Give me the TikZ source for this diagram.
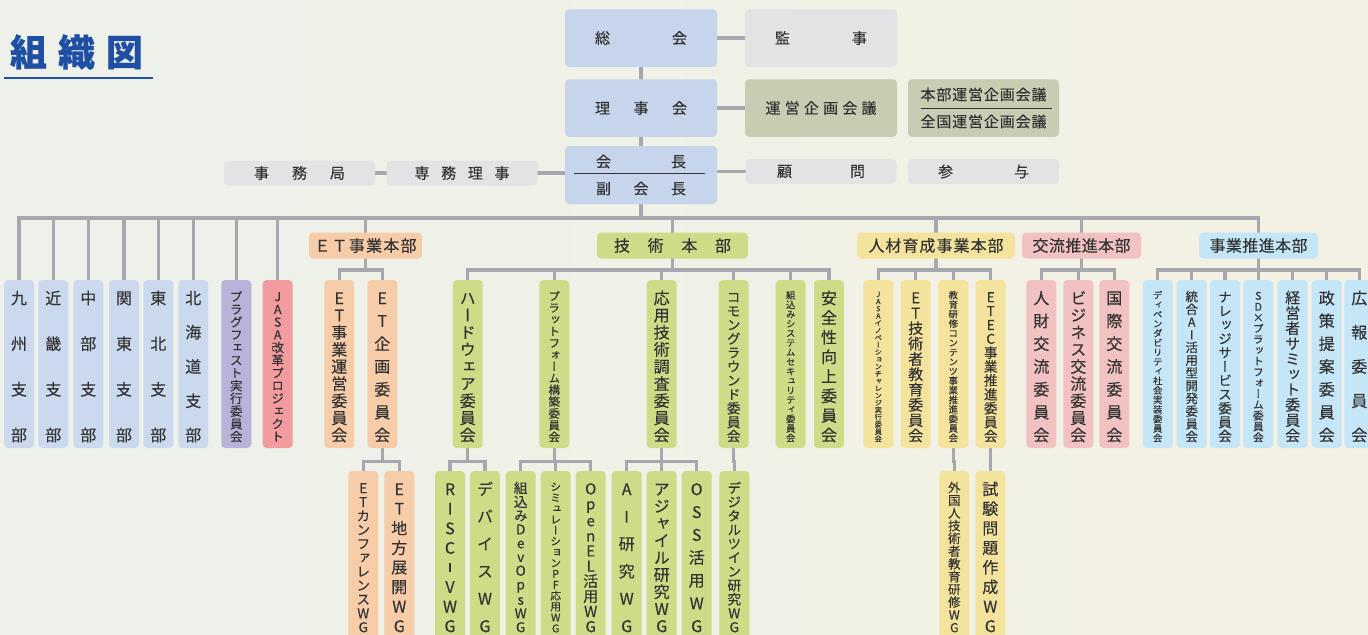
\documentclass[tikz,border=0pt]{standalone}
\usepackage{fontspec}
\setmainfont{Noto Sans CJK JP}[FakeBold=0.25]
\newfontfamily\tatefont{Noto Sans CJK JP}[RawFeature=+vert, FakeBold=0.25]

\definecolor{txt}{HTML}{333333}
\definecolor{linegray}{HTML}{A7A8AF}
\definecolor{titleblue}{HTML}{1E4FA3}
\definecolor{bgleft}{HTML}{EDF1EA}
\definecolor{bgright}{HTML}{F3F1E3}
\definecolor{kaiblue}{HTML}{C6D5EC}
\definecolor{shibu}{HTML}{CBD9EF}
\definecolor{kgray}{HTML}{E2E3E5}
\definecolor{olive}{HTML}{C9CBB3}
\definecolor{plugcol}{HTML}{B8B4D9}
\definecolor{kaikakucol}{HTML}{F39CA0}
\definecolor{etcol}{HTML}{F7CDA9}
\definecolor{gicol}{HTML}{CEDB87}
\definecolor{jicol}{HTML}{F4E39D}
\definecolor{kocol}{HTML}{F2C1C1}
\definecolor{jgcol}{HTML}{C5E6F6}

\newcommand\tst{\vrule height .88em depth .12em width 0pt\relax}
\newcommand\tbar{\rule[.1em]{.12em}{.55em}}

% vertical text: one character per row, spread over the box
\ExplSyntaxOn
\NewDocumentCommand \tate { m }
  {
    \int_set:Nn \l_tmpa_int { \tl_count:n {#1} }
    \tl_set:Nx \l_tmpa_tl { \fp_eval:n { min ( 8 , 75 / \l_tmpa_int ) } }
    \vbox to 78pt
      {
        \offinterlineskip
        \kern 2.5pt
        \tatefont \fontsize { \l_tmpa_tl } { 10 } \selectfont
        \bool_set_false:N \l_tmpa_bool
        \tl_map_inline:nn {#1}
          {
            \bool_if:NT \l_tmpa_bool { \vfill }
            \bool_set_true:N \l_tmpa_bool
            \hbox_to_wd:nn { 14pt } { \hss \tst ##1 \hss }
          }
      }
  }
% spaced-out horizontal text
\NewDocumentCommand \yoko { m m }
  {
    \hbox_to_wd:nn {#1}
      {
        \bool_set_false:N \l_tmpa_bool
        \tl_map_inline:nn {#2}
          {
            \bool_if:NT \l_tmpa_bool { \hfil }
            \bool_set_true:N \l_tmpa_bool
            ##1
          }
      }
  }
\ExplSyntaxOff

\pgfdeclarelayer{back}
\pgfdeclarelayer{wires}
\pgfsetlayers{back,wires,main}

\tikzset{
  box/.style={rounded corners=2pt, inner sep=0pt, text=txt},
  topbox/.style={box, minimum width=76pt, minimum height=28.75pt,
    align=center, font=\fontsize{7.5}{13.5}\selectfont},
  smallbox/.style={box, minimum width=75.5pt, minimum height=12.5pt,
    font=\fontsize{7.5}{9}\selectfont},
  headbox/.style={box, minimum height=13pt, font=\fontsize{8}{9}\selectfont},
  tatebox/.style={box, minimum width=15pt, minimum height=84pt},
  conn/.style={draw=linegray, line width=1.6pt, line cap=rect},
}

\begin{document}
\begin{tikzpicture}[x=0.5pt, y=-0.5pt]
  \useasboundingbox (0,0) rectangle (1368,634);
  \begin{pgfonlayer}{back}
    \shade[left color=bgleft, right color=bgright] (0,0) rectangle (1368,634);
  \end{pgfonlayer}

  % title
  \node[text=titleblue, font=\fontsize{18.5}{20}\selectfont\bfseries] (title) at (76.5,52) {\yoko{66.5pt}{組織図}};
  \draw[titleblue, line width=0.6pt] (4,78) -- (153,78);

  % top
  \node[topbox, fill=kaiblue] (sokai) at (641,38) {\yoko{46pt}{総会}};
  \node[topbox, fill=kgray] (kanji) at (821,38) {\yoko{46pt}{監事}};
  \node[topbox, fill=kaiblue] (rijikai) at (641,108) {\yoko{46pt}{理事会}};
  \node[topbox, fill=olive] (unei) at (821,108) {\yoko{55.5pt}{運営企画会議}};
  \node[topbox, fill=olive, minimum width=75.5pt] (honbu) at (983.5,108) {\yoko{63pt}{本部運営企画会議}\\\yoko{63pt}{全国運営企画会議}};
  \node[topbox, fill=kaiblue, minimum height=29pt] (kaicho) at (641,175) {\yoko{45pt}{会長}\\\yoko{45pt}{副会長}};
  \node[smallbox, fill=kgray] (komon) at (821,171.5) {\yoko{44pt}{顧問}};
  \node[smallbox, fill=kgray] (sanyo) at (983.5,171.5) {\yoko{45.5pt}{参与}};
  \node[smallbox, fill=kgray] (jimu) at (299.5,173) {\yoko{45.5pt}{事務局}};
  \node[smallbox, fill=kgray] (senmu) at (462,173) {\yoko{47.5pt}{専務理事}};
  \draw[txt, line width=0.5pt] ([xshift=4.5pt, yshift=1pt]kaicho.west) -- ([xshift=-6pt, yshift=1pt]kaicho.east);
  \draw[txt, line width=0.5pt] ([xshift=6.5pt]honbu.west) -- ([xshift=-3.5pt]honbu.east);

  % headquarters
  \node[headbox, fill=etcol, minimum width=56.5pt] (etbu) at (365.5,245.5) {\yoko{51pt}{ＥＴ事業本部}};
  \node[headbox, fill=gicol, minimum width=75.5pt] (gijutsu) at (672.5,245.5) {\yoko{58.5pt}{技術本部}};
  \node[headbox, fill=jicol, minimum width=79pt] (jinzai) at (936,245.5) {\yoko{67.5pt}{人材育成事業本部}};
  \node[headbox, fill=kocol, minimum width=59.5pt] (koryu) at (1081.5,245.5) {\yoko{49pt}{交流推進本部}};
  \node[headbox, fill=jgcol, minimum width=59.5pt] (jigyo) at (1258.5,245.5) {\yoko{49pt}{事業推進本部}};

  % branches and committees
  \node[tatebox, fill=shibu] (kyushu) at (19,364) {\tate{九州支部}};
  \node[tatebox, fill=shibu] (kinki) at (53.3,364) {\tate{近畿支部}};
  \node[tatebox, fill=shibu] (chubu) at (88.3,364) {\tate{中部支部}};
  \node[tatebox, fill=shibu] (kanto) at (124,364) {\tate{関東支部}};
  \node[tatebox, fill=shibu] (tohoku) at (158.3,364) {\tate{東北支部}};
  \node[tatebox, fill=shibu] (hokkaido) at (193.3,364) {\tate{北海道支部}};
  \node[tatebox, fill=plugcol] (plugfest) at (236.3,364) {\tate{プラグフェスト実行委員会}};
  \node[tatebox, fill=kaikakucol] (kaikaku) at (277.7,364) {\tate{JASA改革プロジェクト}};
  \node[tatebox, fill=etcol] (etunei) at (339.3,364) {\tate{ET事業運営委員会}};
  \node[tatebox, fill=etcol] (etkikaku) at (382.3,364) {\tate{ET企画委員会}};
  \node[tatebox, fill=gicol] (hard) at (467.7,364) {\tate{ハードウェア委員会}};
  \node[tatebox, fill=gicol] (platform) at (554.3,364) {\tate{プラットフォーム構築委員会}};
  \node[tatebox, fill=gicol] (oyo) at (661.7,364) {\tate{応用技術調査委員会}};
  \node[tatebox, fill=gicol] (common) at (733.7,364) {\tate{コモングラウンド委員会}};
  \node[tatebox, fill=gicol] (security) at (790.7,364) {\tate{組込みシステムセキュリティ委員会}};
  \node[tatebox, fill=gicol] (anzen) at (829,364) {\tate{安全性向上委員会}};
  \node[tatebox, fill=jicol] (innov) at (878.3,364) {\tate{JASAイノベーションチャレンジ実行委員会}};
  \node[tatebox, fill=jicol] (etgijutsu) at (915.7,364) {\tate{ET技術者教育委員会}};
  \node[tatebox, fill=jicol] (kyoiku) at (953.3,364) {\tate{教育研修コンテンツ事業推進委員会}};
  \node[tatebox, fill=jicol] (etec) at (990.7,364) {\tate{ETEC事業推進委員会}};
  \node[tatebox, fill=kocol] (jinzaikoryu) at (1041.3,364) {\tate{人財交流委員会}};
  \node[tatebox, fill=kocol] (business) at (1078.3,364) {\tate{ビジネス交流委員会}};
  \node[tatebox, fill=kocol] (kokusai) at (1114.3,364) {\tate{国際交流委員会}};
  \node[tatebox, fill=jgcol] (dependa) at (1157.7,364) {\tate{ディペンダビリティ社会実装委員会}};
  \node[tatebox, fill=jgcol] (togo) at (1191.7,364) {\tate{統合AI活用型開発委員会}};
  \node[tatebox, fill=jgcol] (knowledge) at (1225,364) {\tate{ナレッジサービス委員会}};
  \node[tatebox, fill=jgcol] (sdpf) at (1258.3,364) {\tate{SD×プラットフォーム委員会}};
  \node[tatebox, fill=jgcol] (summit) at (1292.7,364) {\tate{経営者サミット委員会}};
  \node[tatebox, fill=jgcol] (seisaku) at (1326.7,364) {\tate{政策提案委員会}};
  \node[tatebox, fill=jgcol] (koho) at (1359.3,364) {\tate{広報委員会}};

  % working groups
  \node[tatebox, fill=etcol] (etconf) at (363.3,555) {\tate{ETカンファレンスWG}};
  \node[tatebox, fill=etcol] (etchiho) at (399.3,555) {\tate{ET地方展開WG}};
  \node[tatebox, fill=gicol] (riscv) at (450,555) {\tate{RISC\tbar VWG}};
  \node[tatebox, fill=gicol] (device) at (485,555) {\tate{デバイスWG}};
  \node[tatebox, fill=gicol] (devops) at (520.7,555) {\tate{組込みDevOpsWG}};
  \node[tatebox, fill=gicol] (simpf) at (555.7,555) {\tate{シミュレーションPF応用WG}};
  \node[tatebox, fill=gicol] (openel) at (590.7,555) {\tate{OpenEL活用WG}};
  \node[tatebox, fill=gicol] (aiken) at (626.7,555) {\tate{AI研究WG}};
  \node[tatebox, fill=gicol] (agile) at (661.7,555) {\tate{アジャイル研究WG}};
  \node[tatebox, fill=gicol] (oss) at (696.7,555) {\tate{OSS活用WG}};
  \node[tatebox, fill=gicol] (twin) at (734.3,555) {\tate{デジタルツイン研究WG}};
  \node[tatebox, fill=jicol] (gaikoku) at (954.3,555) {\tate{外国人技術者教育研修WG}};
  \node[tatebox, fill=jicol] (shiken) at (990.3,555) {\tate{試験問題作成WG}};

  % connectors
  \begin{pgfonlayer}{wires}
    \coordinate (bus) at (641,218);
    \draw[conn] (sokai.south) -- (rijikai.north);
    \draw[conn] (rijikai.south) -- (kaicho.north);
    \draw[conn] (kaicho.south) -- (bus);
    \draw[conn] (sokai.east) -- (kanji.west);
    \draw[conn] (rijikai.east) -- (unei.west);
    \draw[conn] (komon.west -| kaicho.east) -- (komon.west);
    \draw[conn] (jimu.east) -- (senmu.west);
    \draw[conn] (senmu.east) -- (senmu.east -| kaicho.west);
    \draw[conn] (kyushu.north |- bus) -- (jigyo.north |- bus);
    \foreach \n in {kyushu,kinki,chubu,kanto,tohoku,hokkaido,plugfest,kaikaku,etbu,gijutsu,jinzai,koryu,jigyo}
      \draw[conn] (\n.north) -- (\n.north |- bus);
    \foreach \p/\c in {etbu/etunei,etbu/etkikaku,gijutsu/hard,gijutsu/platform,gijutsu/oyo,gijutsu/common,
        gijutsu/security,gijutsu/anzen,jinzai/innov,jinzai/etgijutsu,jinzai/kyoiku,jinzai/etec,
        koryu/jinzaikoryu,koryu/business,koryu/kokusai,jigyo/dependa,jigyo/togo,jigyo/knowledge,
        jigyo/sdpf,jigyo/summit,jigyo/seisaku,jigyo/koho}
      \draw[conn] (\p.south) -- ++(0,11) -| (\c.north);
    \foreach \p/\c in {etkikaku/etconf,etkikaku/etchiho,hard/riscv,hard/device,platform/devops,
        platform/simpf,platform/openel,oyo/aiken,oyo/agile,oyo/oss,common/twin,kyoiku/gaikoku,etec/shiken}
      \draw[conn] (\p.south) -- ++(0,13) -| (\c.north);
  \end{pgfonlayer}
\end{tikzpicture}
\end{document}
